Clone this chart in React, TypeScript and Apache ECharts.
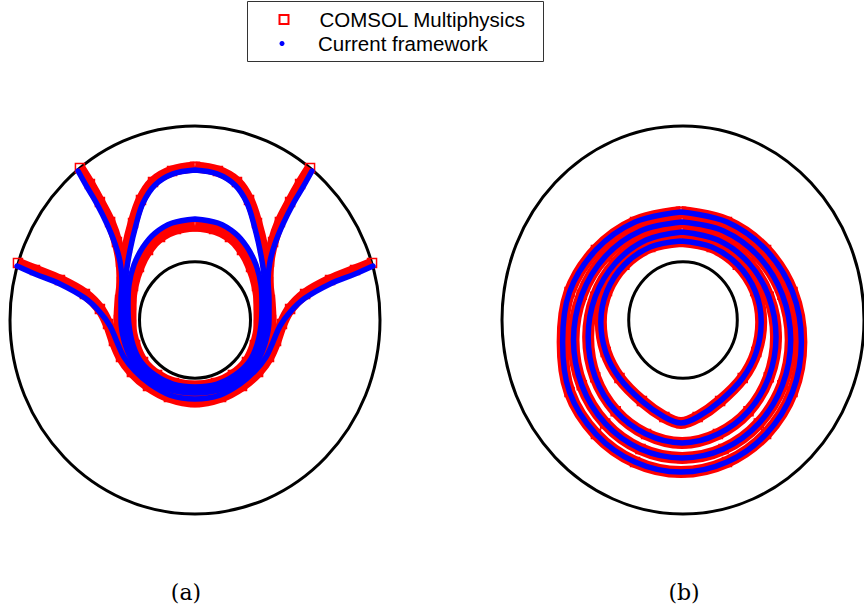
import React, { useEffect, useRef } from 'react';
import * as echarts from 'echarts';

// Domain geometry (outer radius normalised to 1)
const OUTER_R = 1;
const INNER_R = 0.3;

const LEGEND_NAMES = ['COMSOL Multiphysics', 'Current framework'];
const PANEL_LABELS = ['(a)', '(b)'];

// ---------- Panel (a): trajectories (x, y) ----------
// Curve A: starts on the outer wall at mid-height
const A1_BLUE = [
  [-0.962, 0.278], [-0.865, 0.237], [-0.73, 0.186], [-0.595, 0.113], [-0.514, 0.041], [-0.459, -0.031],
  [-0.422, -0.113], [-0.384, -0.191], [-0.324, -0.263], [-0.243, -0.33], [-0.135, -0.387], [0, -0.407],
  [0.135, -0.387], [0.243, -0.33], [0.324, -0.263], [0.384, -0.191], [0.422, -0.113], [0.459, -0.031],
  [0.514, 0.041], [0.595, 0.113], [0.73, 0.186], [0.865, 0.237], [0.962, 0.278],
];
const A1_RED = [
  [-0.957, 0.294], [-0.865, 0.258], [-0.73, 0.206], [-0.595, 0.134], [-0.514, 0.057], [-0.47, -0.021],
  [-0.438, -0.108], [-0.4, -0.191], [-0.341, -0.268], [-0.254, -0.34], [-0.141, -0.397], [0, -0.423],
  [0.141, -0.397], [0.254, -0.34], [0.341, -0.268], [0.4, -0.191], [0.438, -0.108], [0.47, -0.021],
  [0.514, 0.057], [0.595, 0.134], [0.73, 0.206], [0.865, 0.258], [0.957, 0.294],
];
// Curve B: starts on the outer wall, upper corners
const A2_BLUE = [
  [-0.632, 0.768], [-0.584, 0.686], [-0.53, 0.598], [-0.476, 0.495], [-0.432, 0.392], [-0.405, 0.299],
  [-0.395, 0.206], [-0.4, 0.103], [-0.4, 0], [-0.384, -0.103], [-0.346, -0.196], [-0.276, -0.284],
  [-0.162, -0.351], [0, -0.376], [0.162, -0.351], [0.276, -0.284], [0.346, -0.196], [0.384, -0.103],
  [0.4, 0], [0.4, 0.103], [0.395, 0.206], [0.405, 0.299], [0.432, 0.392], [0.476, 0.495],
  [0.53, 0.598], [0.584, 0.686], [0.632, 0.768],
];
const A2_RED = [
  [-0.622, 0.784], [-0.568, 0.701], [-0.514, 0.608], [-0.459, 0.505], [-0.422, 0.402], [-0.4, 0.299],
  [-0.395, 0.196], [-0.405, 0.103], [-0.411, 0], [-0.4, -0.103], [-0.362, -0.201], [-0.286, -0.294],
  [-0.168, -0.361], [0, -0.392], [0.168, -0.361], [0.286, -0.294], [0.362, -0.201], [0.4, -0.103],
  [0.411, 0], [0.405, 0.103], [0.395, 0.196], [0.4, 0.299], [0.422, 0.402], [0.459, 0.505],
  [0.514, 0.608], [0.568, 0.701], [0.622, 0.784],
];
// Curve C: outer arch loop
const A3_BLUE = [
  [0, 0.773], [-0.119, 0.753], [-0.216, 0.696], [-0.281, 0.603], [-0.319, 0.49], [-0.351, 0.361],
  [-0.373, 0.232], [-0.378, 0.103], [-0.373, -0.026], [-0.357, -0.129], [-0.319, -0.216], [-0.243, -0.294],
  [-0.135, -0.345], [0, -0.361], [0.135, -0.345], [0.243, -0.294], [0.319, -0.216], [0.357, -0.129],
  [0.373, -0.026], [0.378, 0.103], [0.373, 0.232], [0.351, 0.361], [0.319, 0.49], [0.281, 0.603],
  [0.216, 0.696], [0.119, 0.753], [0, 0.773],
];
const A3_RED = [
  [0, 0.789], [-0.124, 0.768], [-0.227, 0.711], [-0.292, 0.619], [-0.335, 0.5], [-0.368, 0.371],
  [-0.389, 0.242], [-0.395, 0.103], [-0.389, -0.026], [-0.373, -0.129], [-0.335, -0.227], [-0.259, -0.304],
  [-0.146, -0.361], [0, -0.381], [0.146, -0.361], [0.259, -0.304], [0.335, -0.227], [0.373, -0.129],
  [0.389, -0.026], [0.395, 0.103], [0.389, 0.242], [0.368, 0.371], [0.335, 0.5], [0.292, 0.619],
  [0.227, 0.711], [0.124, 0.768], [0, 0.789],
];
// Curve D: inner arch loop
const A4_BLUE = [
  [0, 0.521], [-0.124, 0.5], [-0.216, 0.448], [-0.281, 0.376], [-0.33, 0.284], [-0.357, 0.18],
  [-0.362, 0.077], [-0.357, -0.026], [-0.335, -0.129], [-0.292, -0.216], [-0.216, -0.284], [-0.119, -0.33],
  [0, -0.345], [0.119, -0.33], [0.216, -0.284], [0.292, -0.216], [0.335, -0.129], [0.357, -0.026],
  [0.362, 0.077], [0.357, 0.18], [0.33, 0.284], [0.281, 0.376], [0.216, 0.448], [0.124, 0.5], [0, 0.521],
];
const A4_RED = [
  [0, 0.485], [-0.103, 0.469], [-0.189, 0.428], [-0.254, 0.361], [-0.303, 0.273], [-0.335, 0.175],
  [-0.346, 0.077], [-0.346, -0.026], [-0.324, -0.129], [-0.281, -0.216], [-0.205, -0.284], [-0.114, -0.325],
  [0, -0.34], [0.114, -0.325], [0.205, -0.284], [0.281, -0.216], [0.324, -0.129], [0.346, -0.026],
  [0.346, 0.077], [0.335, 0.175], [0.303, 0.273], [0.254, 0.361], [0.189, 0.428], [0.103, 0.469], [0, 0.485],
];

// ---------- Panel (b): orbit loops (innermost to outermost) ----------
const B1 = [
  [-0.011, 0.407], [-0.181, 0.376], [-0.324, 0.285], [-0.42, 0.149], [-0.454, -0.01], [-0.427, -0.165],
  [-0.351, -0.299], [-0.227, -0.418], [-0.103, -0.5], [-0.011, -0.531], [0.081, -0.5], [0.205, -0.418],
  [0.33, -0.299], [0.405, -0.165], [0.432, -0.01], [0.399, 0.149], [0.303, 0.285], [0.159, 0.376],
  [-0.011, 0.407],
];
const B2 = [
  [-0.005, 0.454], [-0.204, 0.412], [-0.372, 0.295], [-0.485, 0.12], [-0.524, -0.088], [-0.485, -0.295],
  [-0.372, -0.47], [-0.204, -0.588], [-0.005, -0.634], [0.193, -0.588], [0.362, -0.47], [0.474, -0.295],
  [0.514, -0.088], [0.474, 0.12], [0.362, 0.295], [0.193, 0.412], [-0.005, 0.454],
];
const B3 = [
  [-0.005, 0.505], [-0.235, 0.459], [-0.43, 0.327], [-0.559, 0.13], [-0.605, -0.103], [-0.559, -0.336],
  [-0.43, -0.533], [-0.235, -0.665], [-0.005, -0.711], [0.224, -0.665], [0.419, -0.533], [0.549, -0.336],
  [0.595, -0.103], [0.549, 0.13], [0.419, 0.327], [0.224, 0.459], [-0.005, 0.505],
];
const B4 = [
  [-0.011, 0.557], [-0.265, 0.505], [-0.481, 0.361], [-0.627, 0.144], [-0.665, -0.113], [-0.627, -0.371],
  [-0.481, -0.588], [-0.265, -0.732], [-0.011, -0.784], [0.243, -0.732], [0.459, -0.588], [0.605, -0.371],
  [0.654, -0.113], [0.605, 0.144], [0.459, 0.361], [0.243, 0.505], [-0.011, 0.557],
];

const RED = '#ff0000';
const BLUE = '#0000ff';

export default function App() {
  const ref = useRef<HTMLDivElement>(null);

  useEffect(() => {
    if (!ref.current) return;
    const chart = echarts.init(ref.current, null, { renderer: 'svg' });

    const circleSeries = (idx: number) => ({
      type: 'custom',
      xAxisIndex: idx,
      yAxisIndex: idx,
      data: [[0, 0, OUTER_R], [0, 0, INNER_R]],
      clip: false,
      silent: true,
      z: 1,
      renderItem: (_p: any, api: any) => {
        const c = api.coord([api.value(0), api.value(1)]);
        const s = api.size([api.value(2), api.value(2)]);
        return {
          type: 'ellipse',
          shape: { cx: c[0], cy: c[1], rx: s[0], ry: s[1] },
          style: { fill: 'none', stroke: '#000', lineWidth: 3 },
        };
      },
    });

    const redSeries = (data: number[][], idx: number, width: number, smooth: number) => ({
      type: 'line',
      name: LEGEND_NAMES[0],
      xAxisIndex: idx,
      yAxisIndex: idx,
      data,
      smooth,
      symbol: 'rect',
      symbolSize: 9,
      showSymbol: true,
      showAllSymbol: true,
      silent: true,
      z: 2,
      lineStyle: { color: RED, width, join: 'round', cap: 'butt' },
      itemStyle: { color: 'rgba(255,255,255,0)', borderColor: RED, borderWidth: 1.5 },
    });

    const blueSeries = (data: number[][], idx: number, smooth: number) => ({
      type: 'line',
      name: LEGEND_NAMES[1],
      xAxisIndex: idx,
      yAxisIndex: idx,
      data,
      smooth,
      symbol: 'none',
      silent: true,
      z: 3,
      lineStyle: { color: BLUE, width: 5.5, join: 'round', cap: 'round' },
      itemStyle: { color: BLUE },
    });

    const axis = (idx: number) => ({
      type: 'value',
      gridIndex: idx,
      min: -1,
      max: 1,
      show: false,
    });

    const labelText = (text: string, x: number) => ({
      type: 'text',
      x,
      y: 592,
      style: {
        text,
        fontFamily: 'DejaVu Serif',
        fontSize: 22,
        fill: '#000',
        align: 'center',
        verticalAlign: 'middle',
      },
    });

    chart.setOption({
      animation: false,
      backgroundColor: '#fff',
      grid: [
        { left: 10, top: 126, width: 370, height: 388 },
        { left: 502, top: 126, width: 370, height: 388 },
      ],
      xAxis: [axis(0), axis(1)],
      yAxis: [axis(0), axis(1)],
      legend: [
        {
          left: 278.5,
          top: 9,
          padding: 0,
          itemWidth: 9,
          itemHeight: 9,
          selectedMode: false,
          data: [
            {
              name: LEGEND_NAMES[0],
              icon: 'rect',
              itemStyle: { color: '#fff', borderColor: RED, borderWidth: 2 },
            },
          ],
          textStyle: {
            fontFamily: 'Liberation Sans',
            fontSize: 20.5,
            color: '#000',
            padding: [0, 0, 0, 26],
          },
        },
        {
          left: 279.5,
          top: 33,
          padding: 0,
          itemWidth: 5,
          itemHeight: 5,
          selectedMode: false,
          data: [{ name: LEGEND_NAMES[1], icon: 'circle', itemStyle: { color: BLUE } }],
          textStyle: {
            fontFamily: 'Liberation Sans',
            fontSize: 20.5,
            color: '#000',
            padding: [0, 0, 0, 28.5],
          },
        },
      ],
      graphic: [
        {
          type: 'rect',
          shape: { x: 247.5, y: 1.5, width: 296, height: 60 },
          style: { fill: 'none', stroke: '#333', lineWidth: 1 },
          z: 10,
        },
        labelText(PANEL_LABELS[0], 186),
        labelText(PANEL_LABELS[1], 684),
      ],
      series: [
        circleSeries(0),
        circleSeries(1),
        redSeries(A1_RED, 0, 11, 0.35),
        redSeries(A2_RED, 0, 11, 0.35),
        redSeries(A3_RED, 0, 11, 0.35),
        redSeries(A4_RED, 0, 11, 0.35),
        redSeries(B1, 1, 12, 0.35),
        redSeries(B2, 1, 12, 0.35),
        redSeries(B3, 1, 12, 0.35),
        redSeries(B4, 1, 12, 0.35),
        blueSeries(A1_BLUE, 0, 0.35),
        blueSeries(A2_BLUE, 0, 0.35),
        blueSeries(A3_BLUE, 0, 0.35),
        blueSeries(A4_BLUE, 0, 0.35),
        blueSeries(B1, 1, 0.35),
        blueSeries(B2, 1, 0.35),
        blueSeries(B3, 1, 0.35),
        blueSeries(B4, 1, 0.35),
      ],
    });

    return () => chart.dispose();
  }, []);

  return (
    <div
      ref={ref}
      style={{ position: 'fixed', left: 0, top: 0, width: 864, height: 609 }}
    />
  );
}
